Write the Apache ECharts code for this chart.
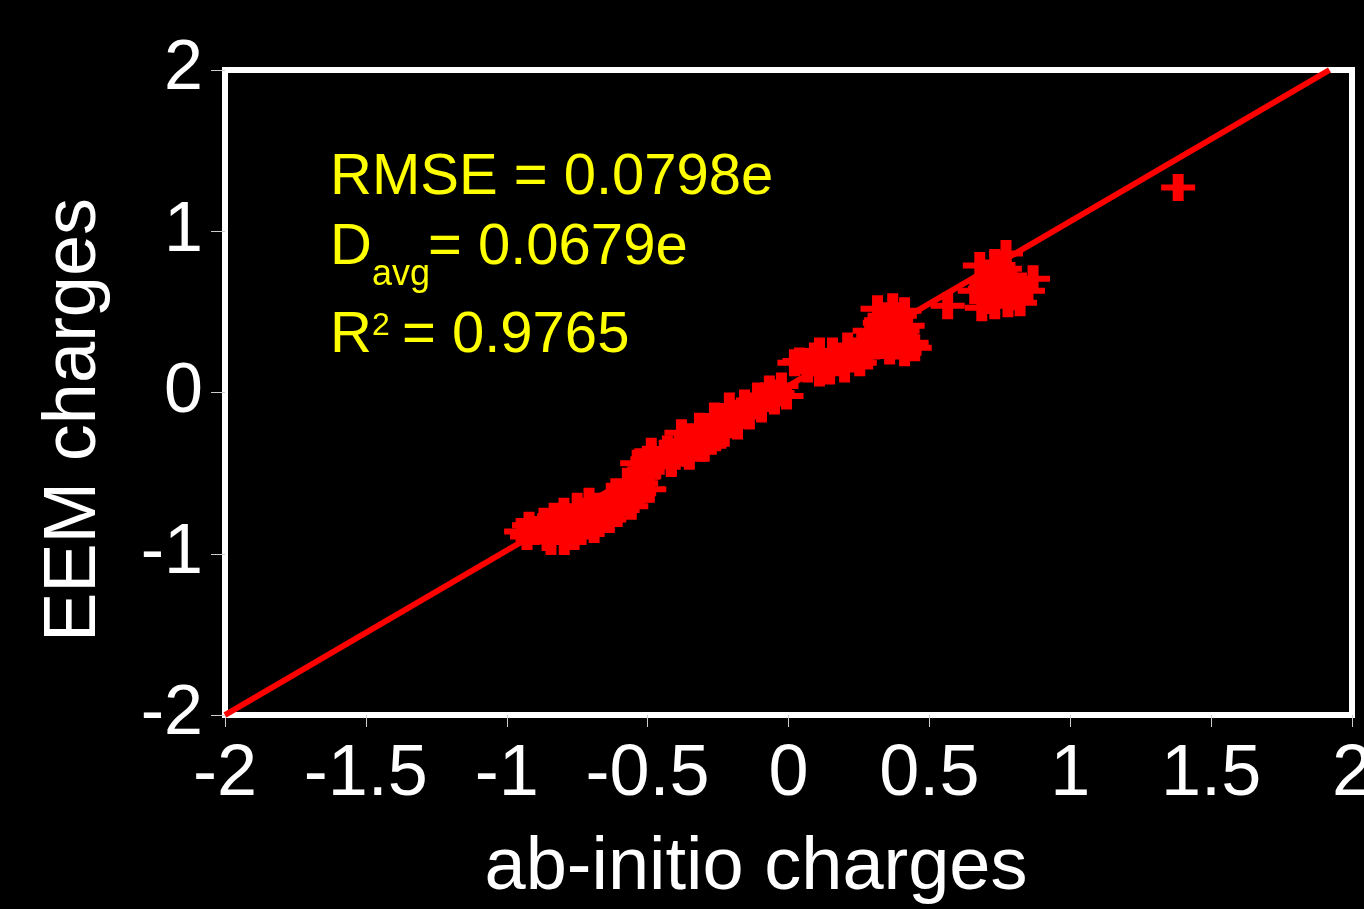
<!DOCTYPE html>
<html>
<head>
<meta charset="utf-8">
<script src="https://cdn.jsdelivr.net/npm/echarts@6/dist/echarts.min.js"></script>
<style>
  html, body { margin: 0; padding: 0; background: #000; }
  #chart { width: 1364px; height: 909px; }
</style>
</head>
<body>
<div id="chart"></div>
<script>
// reference line (drawn as a thick red staircase in the original)
const fitX = [-2, 1.92]
const fitY = [-2, 2]

// ab-initio charges (x) and EEM charges (y), one entry per marker
const abInitio = [
  // around -0.75
  -0.949, -0.921, -0.885, -0.868, -0.832, -0.814, -0.797, -0.772, -0.750, -0.725,
  -0.708, -0.679, -0.654, -0.629, -0.601, -0.572, -0.548, -0.523, -0.494, -0.857,
  -0.761, -0.690, -0.636, -0.928, -0.903, -0.850, -0.821, -0.786, -0.743, -0.715,
  -0.672, -0.619, -0.583, -0.530, -0.843, -0.796, -0.736, -0.672, -0.608, -0.558,
  -0.512, -0.572,
  // -0.5 .. 0
  -0.537, -0.501, -0.476, -0.441, -0.416, -0.388, -0.359, -0.334, -0.316, -0.288,
  -0.274, -0.245, -0.228, -0.199, -0.181, -0.156, -0.139, -0.110, -0.096, -0.068,
  -0.050, -0.025, -0.007, -0.512, -0.459, -0.430, -0.402, -0.373, -0.345, -0.302,
  -0.260, -0.210, -0.167, -0.121, -0.082, -0.039, -0.210, -0.263, -0.316, -0.487,
  -0.352, -0.299, -0.416, -0.380, -0.240,
  // 0 .. 0.3
  0.039, 0.068, 0.092, 0.128, 0.156, 0.181, 0.210, 0.235, 0.260, 0.281,
  0.021, 0.082, 0.110, 0.146, 0.174, 0.199, 0.224, 0.253, 0.110,
  // 0.3 .. 0.45
  0.316, 0.370, 0.412, 0.324, 0.377, 0.423, 0.341, 0.395, 0.437, 0.359,
  0.412, 0.288, 0.448, 0.341, 0.395, 0.352, 0.405, 0.306, 0.377, 0.565,
  // around 0.75
  0.679, 0.732, 0.768, 0.708, 0.750, 0.793, 0.715, 0.761, 0.804, 0.686,
  0.732, 0.868, 0.850, 0.661, 0.779, 0.772, 0.743, 0.786, 0.697, 0.740,
  0.779, 0.822, 0.722, 0.822,
  1.383
]
const eem = [
  -0.862, -0.824, -0.849, -0.799, -0.768, -0.862, -0.737, -0.830, -0.706, -0.799,
  -0.675, -0.768, -0.706, -0.644, -0.706, -0.613, -0.663, -0.563, -0.600, -0.899,
  -0.893, -0.849, -0.787, -0.893, -0.862, -0.843, -0.812, -0.799, -0.768, -0.737,
  -0.706, -0.675, -0.663, -0.625, -0.924, -0.924, -0.862, -0.812, -0.750, -0.706,
  -0.519, -0.551,
  -0.439, -0.414, -0.457, -0.376, -0.426, -0.333, -0.376, -0.289, -0.345, -0.227,
  -0.302, -0.177, -0.252, -0.128, -0.208, -0.065, -0.146, -0.022, -0.103, 0.022,
  -0.053, 0.040, -0.022, -0.476, -0.426, -0.351, -0.395, -0.302, -0.333, -0.271,
  -0.227, -0.190, -0.115, -0.084, -0.022, -0.003, -0.084, -0.146, -0.209, -0.364,
  -0.395, -0.345, -0.440, -0.250, -0.265,
  0.196, 0.146, 0.227, 0.165, 0.258, 0.184, 0.289, 0.208, 0.308, 0.227,
  0.184, 0.184, 0.258, 0.134, 0.227, 0.146, 0.258, 0.184, 0.121,
  0.519, 0.532, 0.507, 0.432, 0.432, 0.414, 0.333, 0.320, 0.308, 0.258,
  0.246, 0.383, 0.277, 0.476, 0.476, 0.383, 0.383, 0.289, 0.289, 0.538,
  0.787, 0.806, 0.768, 0.681, 0.694, 0.675, 0.600, 0.613, 0.594, 0.526,
  0.538, 0.706, 0.631, 0.631, 0.551, 0.862, 0.737, 0.725, 0.644, 0.632,
  0.632, 0.644, 0.570, 0.557,
  1.272
]

const xTicks = ['-2', '-1.5', '-1', '-0.5', '0', '0.5', '1', '1.5', '2']
const yTicks = ['-2', '-1', '0', '1', '2']

const FONT = '"Liberation Sans", Arial, sans-serif'
const PLUS = 'path://M0,10.5H34V16.5H0Z M11.5,0H22.5V27H11.5Z'

const chart = echarts.init(document.getElementById('chart'), null, { renderer: 'canvas' })

const option = {
  backgroundColor: '#000',
  animation: false,
  grid: {
    left: 225,
    right: 12,
    top: 70,
    bottom: 194,
    outerBoundsMode: 'none',
    containLabel: false,
    show: true,
    borderColor: '#fff',
    borderWidth: 6,
    backgroundColor: 'transparent'
  },
  xAxis: {
    type: 'value',
    min: -2,
    max: 2,
    interval: 0.5,
    axisLine: { show: false, onZero: false },
    axisTick: { show: true, length: 12, lineStyle: { color: '#cccccc', width: 1 } },
    splitLine: { show: false },
    axisLabel: {
      color: '#fff',
      fontSize: 72,
      fontFamily: FONT,
      margin: 24,
      formatter: v => xTicks[Math.round((v + 2) / 0.5)]
    }
  },
  yAxis: {
    type: 'value',
    min: -2,
    max: 2,
    interval: 1,
    axisLine: { show: false, onZero: false },
    axisTick: { show: true, length: 14, lineStyle: { color: '#cccccc', width: 1 } },
    splitLine: { show: false },
    axisLabel: {
      color: '#fff',
      fontSize: 70,
      fontFamily: FONT,
      margin: 22,
      formatter: v => yTicks[Math.round(v + 2)]
    }
  },
  series: [
    {
      type: 'line',
      data: fitX.map((x, i) => [x, fitY[i]]),
      symbol: 'none',
      lineStyle: { color: '#ff0000', width: 6 },
      z: 2
    },
    {
      type: 'scatter',
      data: abInitio.map((x, i) => [x, eem[i]]),
      symbol: PLUS,
      symbolSize: [34, 27],
      itemStyle: { color: '#ff0000', opacity: 1 },
      z: 3
    }
  ],
  graphic: [
    {
      type: 'text', x: 75, y: 420, rotation: Math.PI / 2,
      style: { text: 'EEM charges', fill: '#fff', font: '74px ' + FONT, textAlign: 'center', textVerticalAlign: 'middle' }
    },
    {
      type: 'text', x: 756, y: 869,
      style: { text: 'ab-initio charges', fill: '#fff', font: '74px ' + FONT, textAlign: 'center', textVerticalAlign: 'middle' }
    },
    // stats box
    {
      type: 'text', x: 330, y: 178,
      style: { text: 'RMSE = 0.0798e', fill: '#ffff00', font: '58px ' + FONT, textAlign: 'left', textVerticalAlign: 'middle' }
    },
    {
      type: 'text', x: 330, y: 248,
      style: { text: 'D', fill: '#ffff00', font: '58px ' + FONT, textAlign: 'left', textVerticalAlign: 'middle' }
    },
    {
      type: 'text', x: 372, y: 275,
      style: { text: 'avg', fill: '#ffff00', font: '36px ' + FONT, textAlign: 'left', textVerticalAlign: 'middle' }
    },
    {
      type: 'text', x: 428, y: 248,
      style: { text: '= 0.0679e', fill: '#ffff00', font: '58px ' + FONT, textAlign: 'left', textVerticalAlign: 'middle' }
    },
    {
      type: 'text', x: 330, y: 336,
      style: { text: 'R', fill: '#ffff00', font: '58px ' + FONT, textAlign: 'left', textVerticalAlign: 'middle' }
    },
    {
      type: 'text', x: 372, y: 326,
      style: { text: '2', fill: '#ffff00', font: '32px ' + FONT, textAlign: 'left', textVerticalAlign: 'middle' }
    },
    {
      type: 'text', x: 402, y: 336,
      style: { text: '= 0.9765', fill: '#ffff00', font: '58px ' + FONT, textAlign: 'left', textVerticalAlign: 'middle' }
    }
  ]
}

chart.setOption(option)
</script>
</body>
</html>
